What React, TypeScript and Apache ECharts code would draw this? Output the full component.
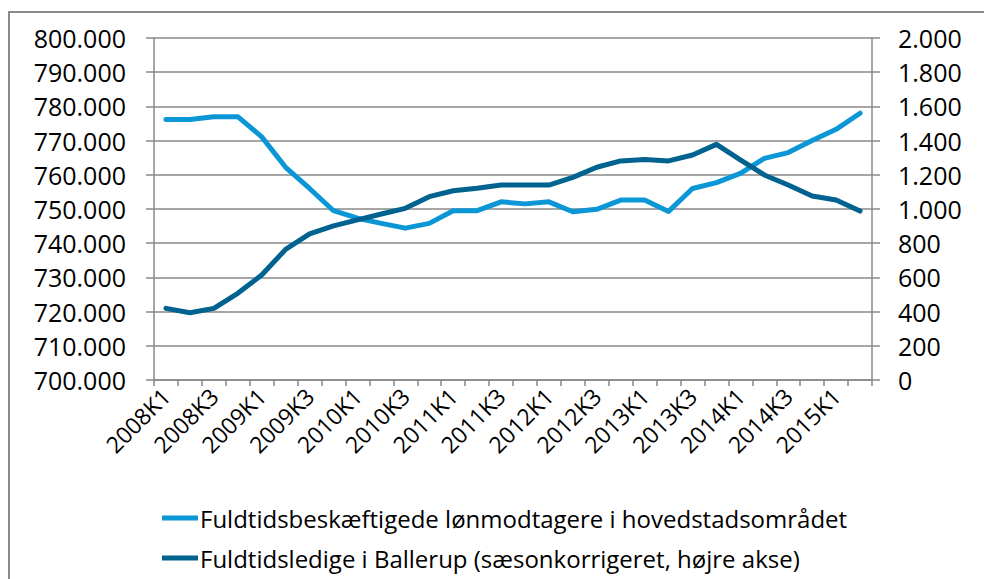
import React, { useEffect, useRef } from "react";
import * as echarts from "echarts";

const categories: string[] = [];
for (let y = 2008; y <= 2015; y++) {
  for (let q = 1; q <= 4; q++) {
    if (y === 2015 && q > 2) break;
    categories.push(`${y}K${q}`);
  }
}

const employees = [
  776.2, 776.2, 777.0, 777.0, 771.1, 762.2, 756.0, 749.5, 747.3, 745.8,
  744.4, 745.8, 749.5, 749.5, 752.1, 751.5, 752.1, 749.2, 749.9, 752.6,
  752.6, 749.3, 756.0, 757.7, 760.4, 764.8, 766.5, 770.0, 773.3, 778.0,
].map((v) => v * 1000);

const unemployed = [
  419, 393, 419, 507, 614, 764, 854, 901, 936, 971,
  1004, 1072, 1107, 1121, 1140, 1140, 1140, 1185, 1244, 1281,
  1290, 1281, 1316, 1378, 1287, 1199, 1140, 1076, 1053, 988,
];

const seriesNames = [
  "Fuldtidsbeskæftigede lønmodtagere i hovedstadsområdet",
  "Fuldtidsledige i Ballerup (sæsonkorrigeret, højre akse)",
];

const fmt = (v: number) => {
  const s = Math.round(v).toString();
  return s.replace(/\B(?=(\d{3})+(?!\d))/g, ".");
};

export default function App() {
  const ref = useRef<HTMLDivElement>(null);
  useEffect(() => {
    if (!ref.current) return;
    const chart = echarts.init(ref.current, null, { renderer: "svg" });
    const font = "Open Sans";
    chart.setOption({
      animation: false,
      backgroundColor: "#fff",
      textStyle: { fontFamily: font },
      graphic: [
        {
          type: "rect",
          shape: { x: 9, y: 12, width: 1100, height: 700 },
          style: { fill: "none", stroke: "#8a8a8a", lineWidth: 2 },
          silent: true,
        },
      ],
      grid: { left: 154, right: 112, top: 38, bottom: 199, containLabel: false },
      legend: {
        orient: "vertical",
        left: 162,
        top: 503,
        padding: 0,
        height: 76,
        itemWidth: 36,
        itemHeight: 5,
        itemGap: 10,
        icon: "rect",
        textStyle: { fontSize: 24, lineHeight: 30, color: "#000", fontFamily: font, padding: [0, 0, 0, -3] },
        data: seriesNames,
      },
      xAxis: {
        type: "category",
        data: categories,
        boundaryGap: true,
        axisLine: { lineStyle: { color: "#888", width: 1.5 } },
        axisTick: { show: true, length: 6, lineStyle: { color: "#888", width: 1.5 }, interval: 0 },
        axisLabel: {
          interval: 1,
          rotate: 45,
          fontSize: 23,
          color: "#000",
          margin: 12,
          fontFamily: font,
        },
      },
      yAxis: [
        {
          type: "value",
          min: 700000,
          max: 800000,
          interval: 10000,
          position: "left",
          axisLine: { show: true, lineStyle: { color: "#888", width: 1.5 } },
          axisTick: { show: true, length: 8, lineStyle: { color: "#888", width: 1.5 } },
          splitLine: { show: true, lineStyle: { color: "#888", width: 1.5 } },
          axisLabel: { formatter: fmt, fontSize: 25, color: "#000", margin: 28, fontFamily: font },
        },
        {
          type: "value",
          min: 0,
          max: 2000,
          interval: 200,
          position: "right",
          axisLine: { show: true, lineStyle: { color: "#888", width: 1.5 } },
          axisTick: { show: true, length: 8, lineStyle: { color: "#888", width: 1.5 } },
          splitLine: { show: false },
          axisLabel: { formatter: fmt, fontSize: 25, color: "#000", margin: 26, fontFamily: font },
        },
      ],
      series: [
        {
          name: seriesNames[0],
          type: "line",
          yAxisIndex: 0,
          data: employees,
          symbol: "none",
          lineStyle: { color: "#0b96d6", width: 5, cap: "round", join: "round" },
          itemStyle: { color: "#0b96d6" },
        },
        {
          name: seriesNames[1],
          type: "line",
          yAxisIndex: 1,
          data: unemployed,
          symbol: "none",
          lineStyle: { color: "#00628f", width: 5, cap: "round", join: "round" },
          itemStyle: { color: "#00628f" },
        },
      ],
    });
    return () => chart.dispose();
  }, []);
  return (
    <div
      ref={ref}
      style={{ position: "fixed", left: 0, top: 0, width: 984, height: 579 }}
    />
  );
}
